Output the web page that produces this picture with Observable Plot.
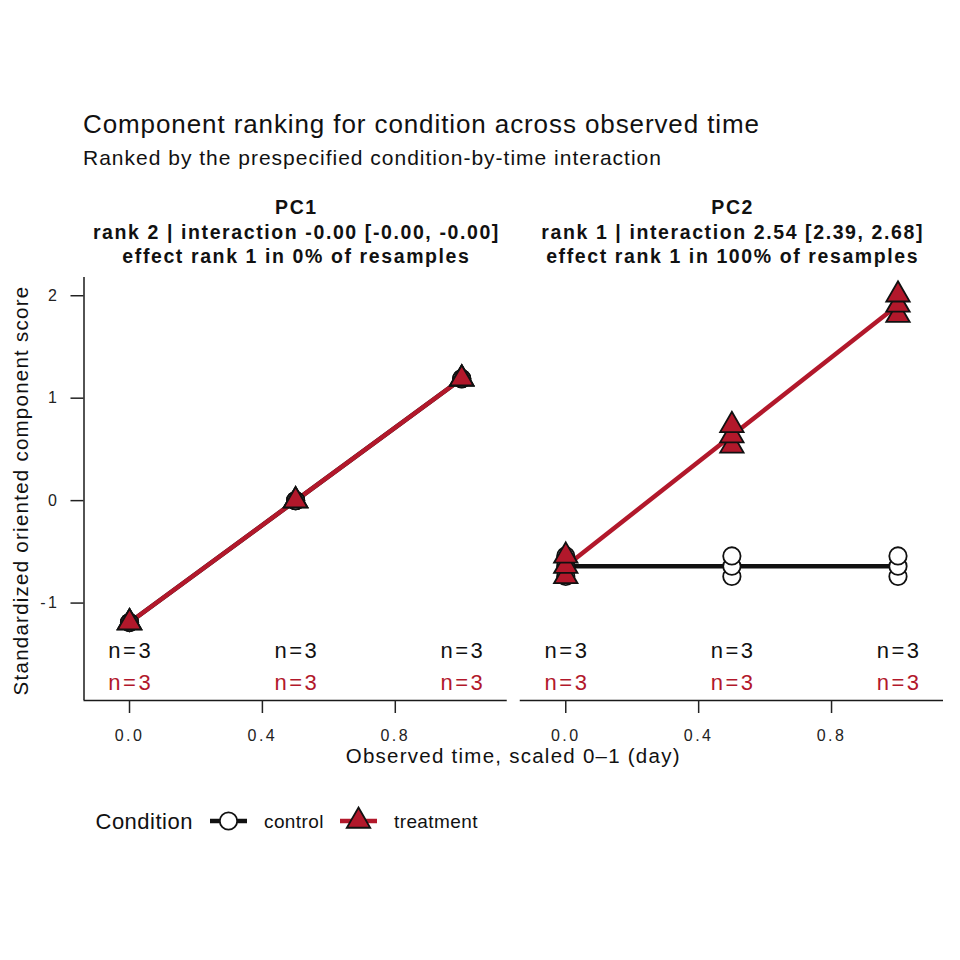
<!DOCTYPE html>
<html>
<head>
<meta charset="utf-8">
<script src="https://cdn.jsdelivr.net/npm/d3@7"></script>
<script src="https://cdn.jsdelivr.net/npm/@observablehq/plot@0.6"></script>
<style>
  body { margin: 0; background: white; }
  #wrap { position: relative; width: 960px; height: 960px; background: white;
          font-family: "Liberation Sans", Arial, Helvetica, sans-serif; color: #111; }
  .abs { position: absolute; white-space: nowrap; }
  g[aria-description="facet-title"] text, g.facet-title text { letter-spacing: 1.6px; }
  g[aria-description="axis-title"] text, g.axis-title text { letter-spacing: 1.25px; }
  g[aria-label="x-axis tick label"] text, g[aria-label="y-axis tick label"] text { letter-spacing: 2.5px; }
  g[aria-description="n-label"] text, g.n-label text { letter-spacing: 2.5px; }
</style>
</head>
<body>
<div id="wrap">
  <div class="abs" id="title" style="left:83px;top:111.3px;font-size:26px;line-height:26px;letter-spacing:0.9px;"></div>
  <div class="abs" id="subtitle" style="left:83px;top:146.7px;font-size:21px;line-height:21px;letter-spacing:1px;"></div>
  <div class="abs" id="chart" style="left:0;top:180px;"></div>
  <div class="abs" id="legend" style="left:0;top:790px;width:960px;height:60px;"></div>
</div>
<script>
// ---------- data ----------
const titleText = "Component ranking for condition across observed time";
const subtitleText = "Ranked by the prespecified condition-by-time interaction";
const panels = ["PC1", "PC2"];
const panelTitles = [
  "PC1\nrank 2 | interaction -0.00 [-0.00, -0.00]\neffect rank 1 in 0% of resamples",
  "PC2\nrank 1 | interaction 2.54 [2.39, 2.68]\neffect rank 1 in 100% of resamples"
];
const conditions = ["control", "treatment"];
const times = [0, 0.5, 1];
// replicate scores per time (ascending within each time)
const pc1ControlScores   = [[-1.19, -1.19, -1.19], [0, 0, 0], [1.19, 1.19, 1.19]];
const pc1TreatmentScores = [[-1.19, -1.19, -1.19], [0, 0, 0], [1.19, 1.19, 1.19]];
const pc2ControlScores   = [[-0.74, -0.64, -0.54], [-0.74, -0.64, -0.54], [-0.74, -0.64, -0.54]];
const pc2TreatmentScores = [[-0.74, -0.64, -0.54], [0.535, 0.635, 0.735], [1.81, 1.91, 2.01]];
const xTicks = [0, 0.4, 0.8];
const xTickLabels = ["0.0", "0.4", "0.8"];
const yTicks = [-1, 0, 1, 2];
const yTickLabels = ["-1", "0", "1", "2"];
const xLabel = "Observed time, scaled 0\u20131 (day)";
const yLabel = "Standardized oriented component score";
const legendTitle = "Condition";

// ---------- styles ----------
const RED = "#B2182B";
const BLACK = "#111111";
const condStyle = {
  control:   {line: BLACK, fill: "white", symbol: "circle",   label: BLACK},
  treatment: {line: RED,   fill: RED,     symbol: "triangle", label: RED}
};
const xDomain = [-0.137, 1.137];
const yDomain = [-1.951, 2.178];
const dotR = 8.7;

// ---------- build table ----------
const scoreTable = {
  PC1: {control: pc1ControlScores, treatment: pc1TreatmentScores},
  PC2: {control: pc2ControlScores, treatment: pc2TreatmentScores}
};
const points = [];
for (const panel of panels)
  for (const condition of conditions)
    times.forEach((time, ti) => {
      for (const score of scoreTable[panel][condition][ti]) points.push({panel, condition, time, score});
    });
const panelTitleData = panels.map((panel, i) => ({panel, title: panelTitles[i]}));

document.getElementById("title").textContent = titleText;
document.getElementById("subtitle").textContent = subtitleText;

const marks = [
  // axis lines
  Plot.ruleY([yDomain[0]], {stroke: "#1a1a1a", strokeWidth: 1.5}),
  Plot.ruleX([panels[0]], {fx: d => d, x: () => xDomain[0], stroke: "#1a1a1a", strokeWidth: 1.5}),
  Plot.axisX({ticks: xTicks, tickFormat: (d) => xTickLabels[xTicks.indexOf(d)], tickSize: 13, tickPadding: 16,
              fontSize: 16, color: "#222", strokeWidth: 1.5, label: null}),
  Plot.axisY({ticks: yTicks, tickFormat: (d) => yTickLabels[yTicks.indexOf(d)], tickSize: 13, tickPadding: 11.5,
              fontSize: 16, color: "#222", strokeWidth: 1.5, label: null})
];
// lines (means) then points
for (const c of conditions) {
  marks.push(Plot.lineY(points.filter(d => d.condition === c),
    Plot.groupX({y: "mean"}, {x: "time", y: "score", fx: "panel", stroke: condStyle[c].line, strokeWidth: 4.5})));
}
for (const c of conditions) {
  marks.push(Plot.dot(points.filter(d => d.condition === c),
    {x: "time", y: "score", fx: "panel", symbol: condStyle[c].symbol, r: dotR,
     fill: condStyle[c].fill, stroke: BLACK, strokeWidth: 1.8}));
}
// n labels
const nOffset = {control: -50, treatment: -18};
for (const c of conditions) {
  marks.push(Plot.text(points.filter(d => d.condition === c),
    Plot.groupX({text: D => `n=${D.length}`}, {x: "time", text: "score", fx: "panel", frameAnchor: "bottom",
      lineAnchor: "middle", textAnchor: "middle", dy: nOffset[c], dx: 1.2, fill: condStyle[c].label, fontSize: 22,
      ariaDescription: "n-label", className: "n-label"})));
}
// facet titles
marks.push(Plot.text(panelTitleData, {fx: "panel", text: "title", frameAnchor: "top", lineAnchor: "middle",
  textAnchor: "middle", dy: -46.5, dx: 0.8, lineHeight: 1.25,
  fontWeight: "bold", fontSize: 19.5, fill: BLACK, ariaDescription: "facet-title", className: "facet-title"}));
// axis titles
marks.push(Plot.text([xLabel], {fx: () => panels[0], text: d => d, frameAnchor: "bottom-right",
  textAnchor: "middle", lineAnchor: "middle", dx: 6, dy: 56,
  fontSize: 20.5, fill: BLACK, ariaDescription: "axis-title", className: "axis-title"}));
marks.push(Plot.text([yLabel], {fx: () => panels[0], text: d => d, frameAnchor: "left", rotate: -90,
  textAnchor: "middle", lineAnchor: "middle", dx: -62.5, dy: 1.5,
  fontSize: 20.5, fill: BLACK, ariaDescription: "axis-title", className: "axis-title"}));

const chart = Plot.plot({
  width: 960, height: 610,
  marginTop: 97, marginBottom: 90, marginLeft: 83.5, marginRight: 17,
  style: {fontFamily: "'Liberation Sans', Arial, Helvetica, sans-serif", background: "white", color: BLACK, overflow: "visible"},
  fx: {domain: panels, paddingInner: 0.0298, paddingOuter: 0, round: false, axis: null, label: null},
  x: {domain: xDomain},
  y: {domain: yDomain},
  marks
});
document.getElementById("chart").appendChild(chart);

// ---------- legend ----------
const legend = document.getElementById("legend");
const lt = document.createElement("div");
lt.className = "abs";
lt.textContent = legendTitle;
Object.assign(lt.style, {left: "95.5px", top: "20.75px", fontSize: "22px", lineHeight: "22px", letterSpacing: "0.5px"});
legend.appendChild(lt);
const keyLeft = {control: 210, treatment: 340};
const labelLeft = {control: 264, treatment: 394};
for (const c of conditions) {
  const svg = d3.create("svg").attr("width", 38).attr("height", 30)
    .style("position", "absolute").style("left", keyLeft[c] + "px").style("top", "15.5px").style("overflow", "visible");
  svg.append("line").attr("x1", 0).attr("x2", 37).attr("y1", 15).attr("y2", 15)
    .attr("stroke", condStyle[c].line).attr("stroke-width", 4.5);
  const sym = condStyle[c].symbol === "circle" ? d3.symbolCircle : d3.symbolTriangle;
  svg.append("path").attr("d", d3.symbol(sym, Math.PI * dotR * dotR)())
    .attr("transform", "translate(18.5,15)")
    .attr("fill", condStyle[c].fill).attr("stroke", BLACK).attr("stroke-width", 1.8);
  legend.appendChild(svg.node());
  const lab = document.createElement("div");
  lab.className = "abs";
  lab.textContent = c;
  Object.assign(lab.style, {left: labelLeft[c] + "px", top: "22.2px", fontSize: "19px", lineHeight: "19px", letterSpacing: "0.4px"});
  legend.appendChild(lab);
}
</script>
</body>
</html>
